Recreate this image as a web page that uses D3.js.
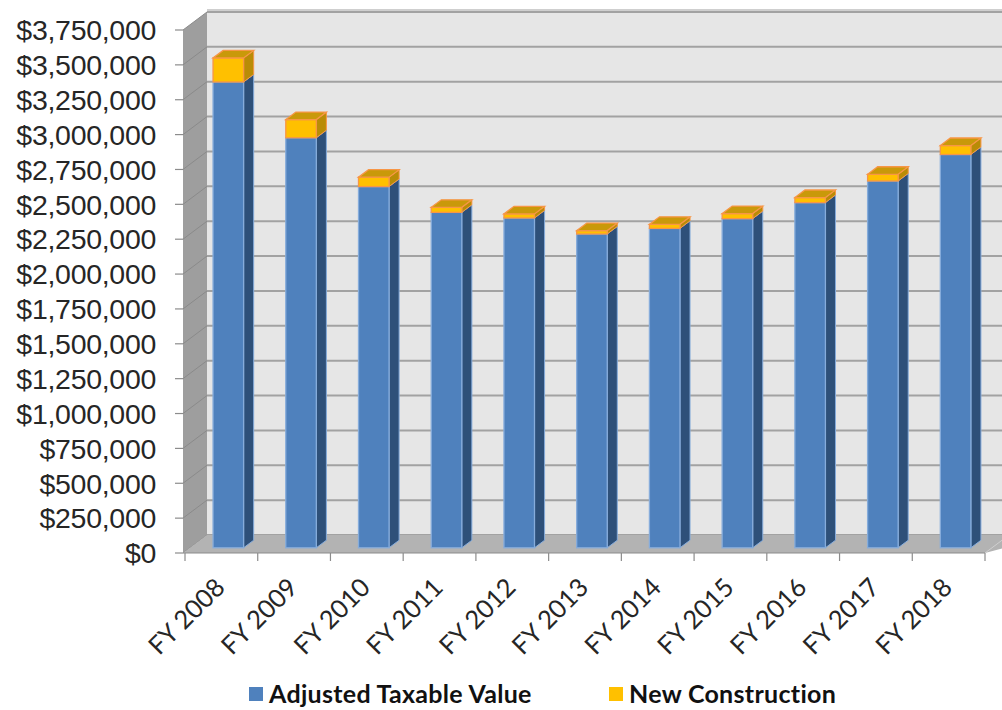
<!DOCTYPE html>
<html>
<head>
<meta charset="utf-8">
<script src="https://cdn.jsdelivr.net/npm/d3@7"></script>
<style>
  html, body { margin: 0; padding: 0; background: #ffffff; }
  svg { display: block; }
</style>
</head>
<body>
<svg id="chart" width="1002" height="710"></svg>
<script>
// ---- data ----
const categories = ["FY 2008", "FY 2009", "FY 2010", "FY 2011", "FY 2012", "FY 2013",
                    "FY 2014", "FY 2015", "FY 2016", "FY 2017", "FY 2018"];
const adjustedTaxableValue = [3340000, 2940000, 2590000, 2405000, 2365000, 2250000,
                              2290000, 2360000, 2475000, 2630000, 2820000];
const newConstruction = [172000, 130000, 67000, 36000, 29000, 24000,
                         29000, 36000, 36000, 48000, 64000];
const yTickValues = [0, 250000, 500000, 750000, 1000000, 1250000, 1500000, 1750000,
                     2000000, 2250000, 2500000, 2750000, 3000000, 3250000, 3500000, 3750000];
const seriesNames = ["Adjusted Taxable Value", "New Construction"];

// ---- layout ----
const svg = d3.select("#chart");
const DX = 24, DY = 18;            // depth offset of the 3D box
const wallX = 183;                 // front-left edge of the box
const rightX = 1030;
const y = d3.scaleLinear().domain([0, 3750000]).range([553, 30]);
const x = d3.scaleBand().domain(categories).range([185, 985])
  .paddingInner(0.58).paddingOuter(0.29);
const proj = (px, py, f) => [px + DX * f, py - DY * f];
const fmt = d3.format("$,");

// back wall
svg.append("rect")
  .attr("x", wallX + DX).attr("y", y(3750000) - DY)
  .attr("width", rightX - wallX - DX).attr("height", y(0) - y(3750000))
  .attr("fill", "#e6e6e6");
svg.append("line")
  .attr("x1", wallX + DX).attr("x2", rightX)
  .attr("y1", y(3750000) - DY - 2).attr("y2", y(3750000) - DY - 2)
  .attr("stroke", "#cfcfcf").attr("stroke-width", 2);
svg.append("g").selectAll("line").data(yTickValues).join("line")
  .attr("x1", wallX + DX).attr("x2", rightX)
  .attr("y1", d => y(d) - DY).attr("y2", d => y(d) - DY)
  .attr("stroke", "#a2a2a2").attr("stroke-width", 2);

// left wall
svg.append("polygon")
  .attr("points", [[wallX, y(0)], [wallX, y(3750000)], [wallX + DX, y(3750000) - DY], [wallX + DX, y(0) - DY]].join(" "))
  .attr("fill", "#9e9e9e");
svg.append("g").selectAll("line").data(yTickValues).join("line")
  .attr("x1", wallX).attr("x2", wallX + DX)
  .attr("y1", d => y(d)).attr("y2", d => y(d) - DY)
  .attr("stroke", "#8a8a8a").attr("stroke-width", 1);

// floor
svg.append("polygon")
  .attr("points", [[wallX, y(0)], [wallX + DX, y(0) - DY], [rightX + DX, y(0) - DY], [985, y(0)]].join(" "))
  .attr("fill", "#b3b3b3");
svg.append("line")
  .attr("x1", 985).attr("y1", y(0)).attr("x2", 985 + DX).attr("y2", y(0) - DY)
  .attr("stroke", "#cfcfcf").attr("stroke-width", 1);

// bars
const fFront = 0.29, fBack = 0.71;
function box(g, x0, w, v0, v1, front, side, top, stroke, drawTop) {
  const [ax, ay] = proj(x0, y(v1), fFront);
  const [bx, by] = proj(x0 + w, y(v0), fFront);
  const [cx, cy] = proj(x0 + w, y(v1), fBack);
  const [dx2, dy2] = proj(x0 + w, y(v0), fBack);
  // side
  g.append("polygon")
    .attr("points", [[bx, ay], [cx, cy], [dx2, dy2], [bx, by]].join(" "))
    .attr("fill", side).attr("stroke", stroke).attr("stroke-width", 1);
  // front
  g.append("rect")
    .attr("x", ax).attr("y", ay).attr("width", bx - ax).attr("height", by - ay)
    .attr("fill", front).attr("stroke", stroke).attr("stroke-width", 1.3);
  if (drawTop) {
    const [ex, ey] = proj(x0, y(v1), fBack);
    g.append("polygon")
      .attr("points", [[ax, ay], [bx, ay], [cx, cy], [ex, ey]].join(" "))
      .attr("fill", top).attr("stroke", stroke).attr("stroke-width", 1.3);
  }
}
const barsG = svg.append("g");
categories.forEach((c, i) => {
  const g = barsG.append("g");
  const a = adjustedTaxableValue[i], n = newConstruction[i];
  box(g, x(c), x.bandwidth(), 0, a, "#4f81bd", "#2e5079", "#4f81bd", "#86acdb", false);
  box(g, x(c), x.bandwidth(), a, a + n, "#ffc000", "#b98c06", "#c9990a", "#f79646", true);
});

// axes
svg.append("line")
  .attr("x1", wallX).attr("x2", 985).attr("y1", y(0)).attr("y2", y(0))
  .attr("stroke", "#8c8c8c").attr("stroke-width", 1.2);
svg.append("g").selectAll("line").data(yTickValues).join("line")
  .attr("x1", 175).attr("x2", wallX).attr("y1", d => y(d)).attr("y2", d => y(d))
  .attr("stroke", "#8c8c8c").attr("stroke-width", 1.2);
svg.append("g").selectAll("text").data(yTickValues).join("text")
  .attr("x", 156).attr("y", d => y(d)).attr("dy", "0.36em")
  .attr("text-anchor", "end")
  .attr("font-family", "'Liberation Sans', Arial, sans-serif")
  .attr("font-size", 28.5).attr("letter-spacing", -0.3)
  .attr("fill", "#262626")
  .text(d => fmt(d));

const tickXs = d3.range(categories.length + 1).map(i => 185 + i * x.step());
svg.append("g").selectAll("line").data(tickXs).join("line")
  .attr("x1", d => d).attr("x2", d => d).attr("y1", y(0)).attr("y2", y(0) + 8)
  .attr("stroke", "#8c8c8c").attr("stroke-width", 1.2);
svg.append("g").selectAll("text").data(categories).join("text")
  .attr("transform", c => `translate(${x(c) + x.bandwidth() / 2 + 5},589) rotate(-45)`)
  .attr("text-anchor", "end")
  .attr("font-family", "Lato, 'Open Sans', sans-serif")
  .attr("font-size", 25.5)
  .attr("fill", "#262626")
  .text(c => c);

// legend
const legend = [
  { name: seriesNames[0], color: "#4f81bd", sx: 249, tx: 269 },
  { name: seriesNames[1], color: "#ffc000", sx: 609, tx: 629 }
];
const lg = svg.append("g");
legend.forEach(l => {
  lg.append("rect").attr("x", l.sx).attr("y", 687).attr("width", 14).attr("height", 14)
    .attr("fill", l.color);
  lg.append("text").attr("x", l.tx).attr("y", 703)
    .attr("font-family", "Lato, 'Open Sans', sans-serif").attr("font-weight", "bold")
    .attr("font-size", 25).attr("letter-spacing", 0.3).attr("fill", "#111")
    .text(l.name);
});
</script>
</body>
</html>
